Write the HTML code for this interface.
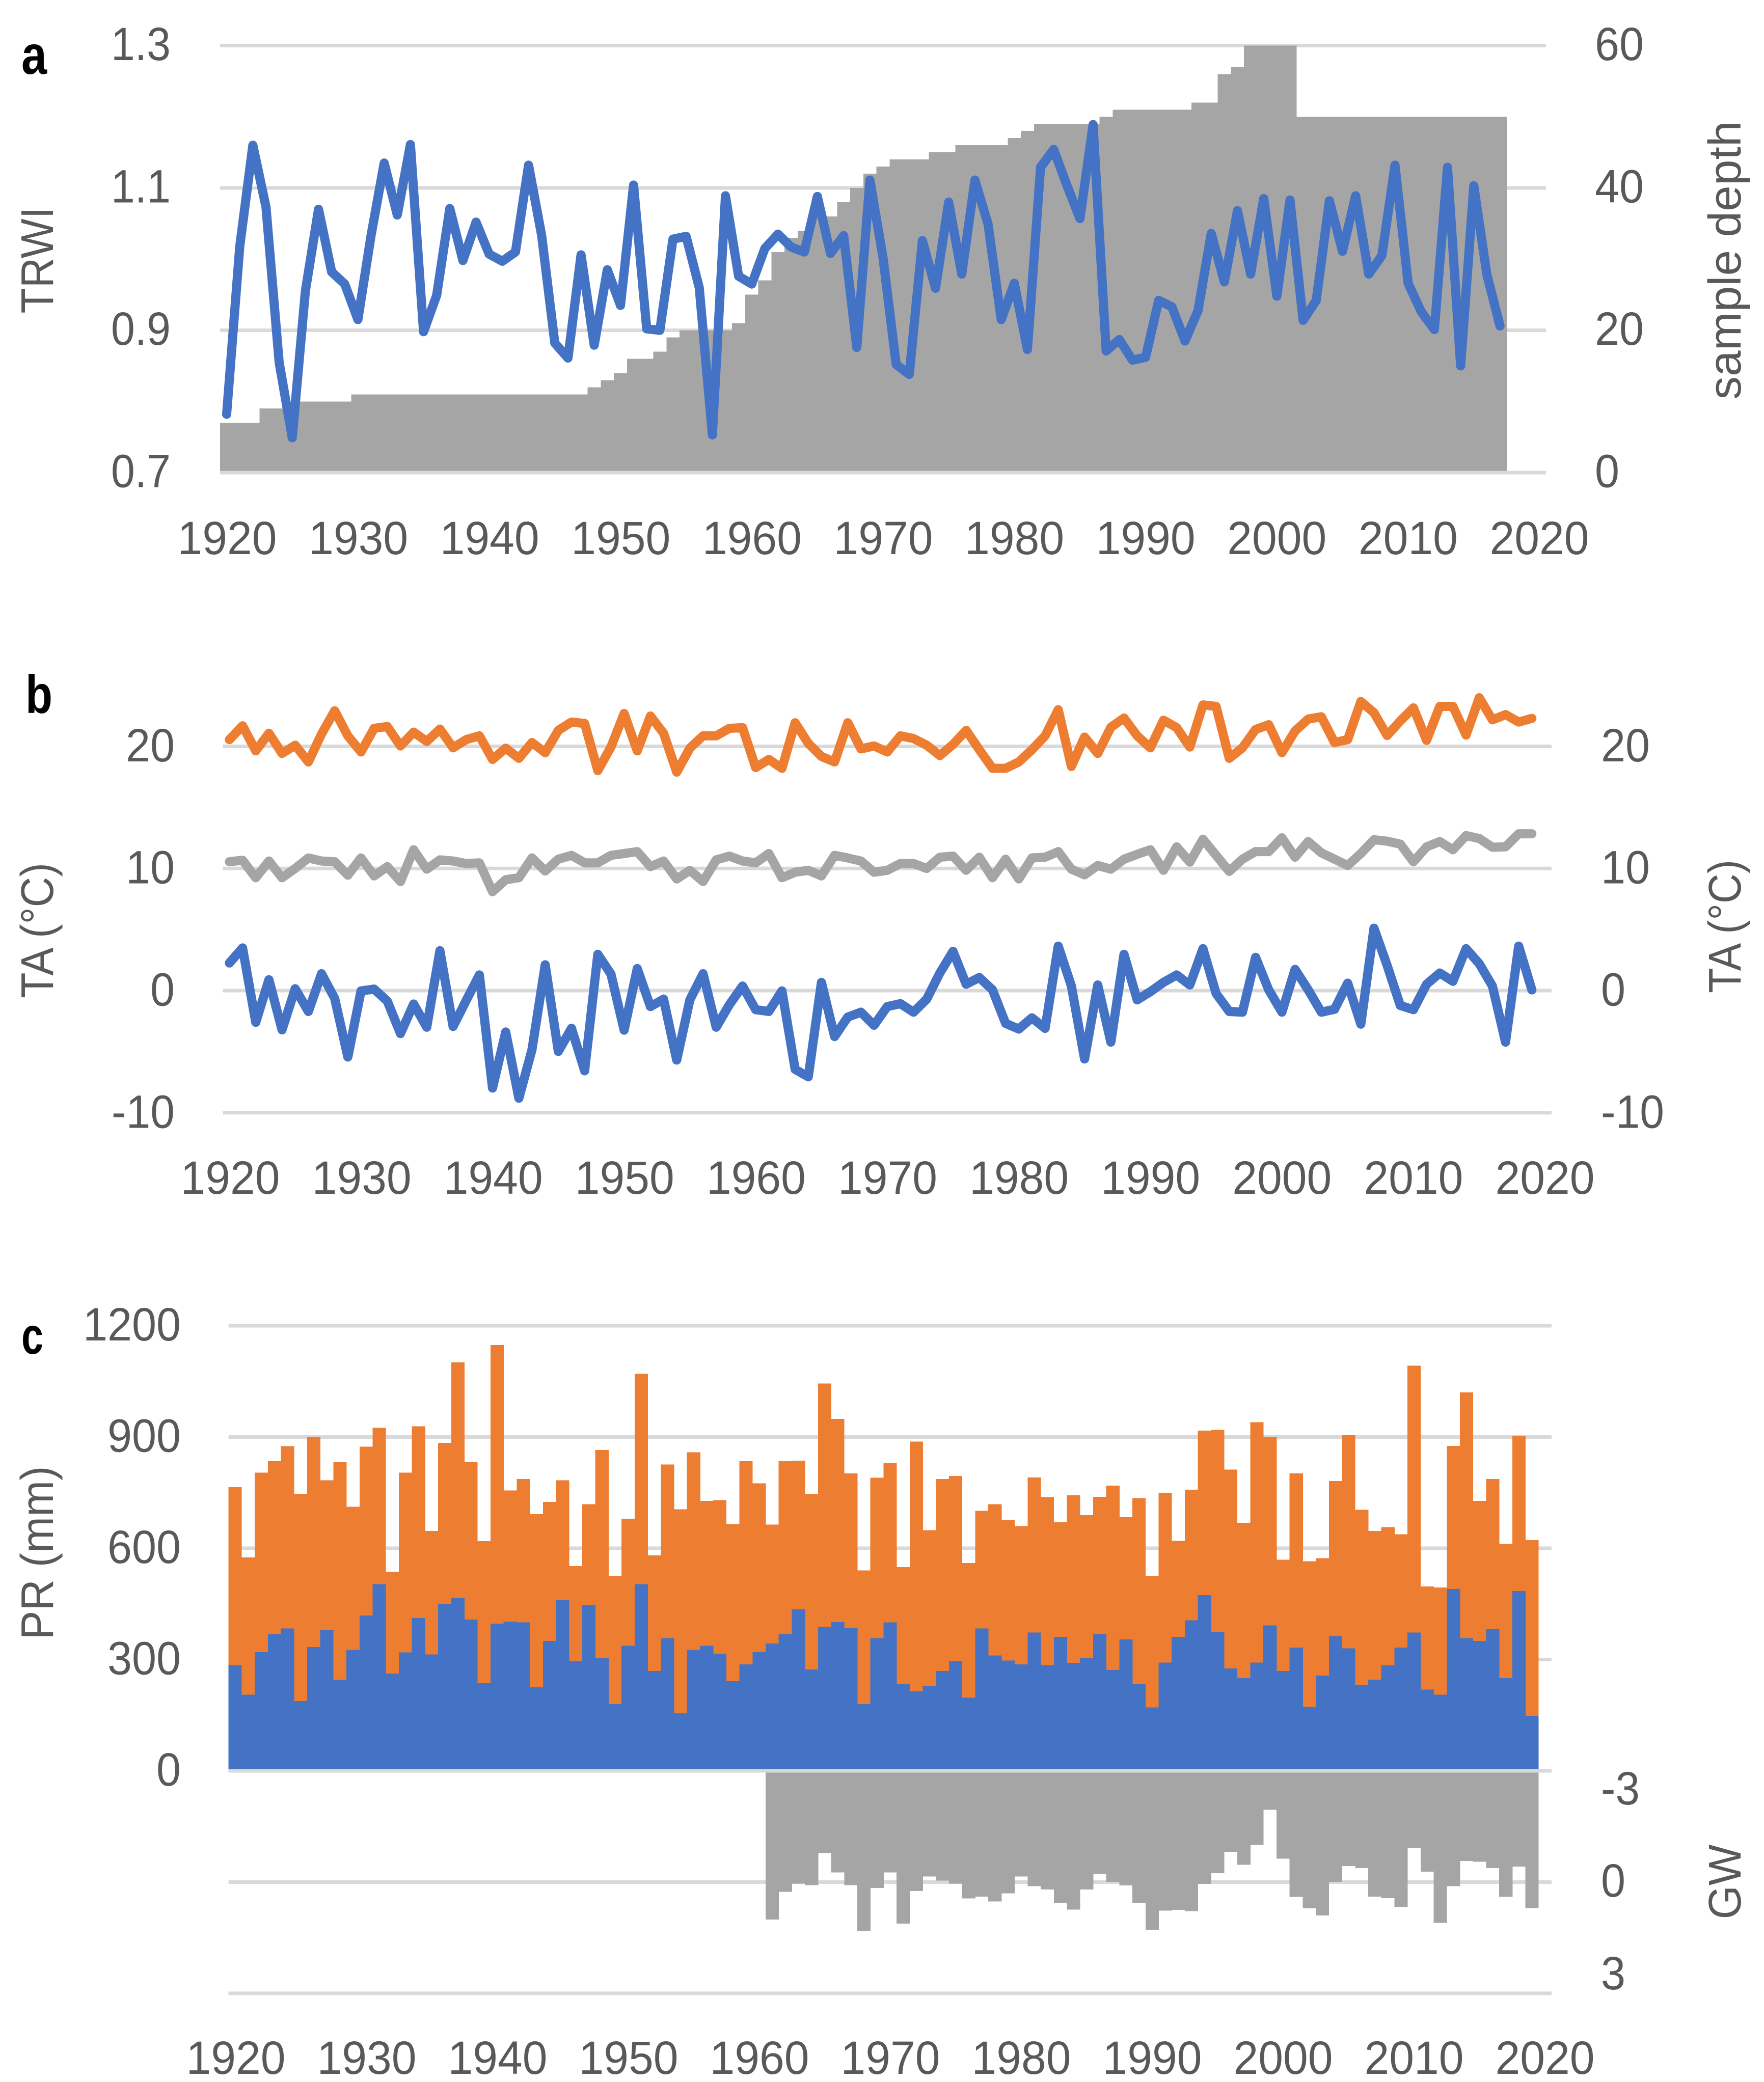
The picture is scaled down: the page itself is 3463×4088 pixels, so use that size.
<!DOCTYPE html>
<html lang="en">
<head>
<meta charset="utf-8">
<title>TRWI, temperature and precipitation, 1920-2020</title>
<style>
html,body{margin:0;padding:0;background:#fff;}
svg{display:block;}
text{font-family:"Liberation Sans",Arial,sans-serif;fill:#595959;}
</style>
</head>
<body>
<svg id="chart" xmlns="http://www.w3.org/2000/svg" width="3463" height="4088" viewBox="0 0 3463 4088">
<rect width="3463" height="4088" fill="#ffffff"/>
<g id="panel-a"></g>
<g id="panel-b"></g>
<g id="panel-c"></g>
<text x="42" y="145" font-size="108" font-weight="700" textLength="50" lengthAdjust="spacingAndGlyphs" style="fill:#000">a</text>
<text x="50" y="1400" font-size="106" font-weight="700" textLength="53" lengthAdjust="spacingAndGlyphs" style="fill:#000">b</text>
<text x="42" y="2658" font-size="102" font-weight="700" textLength="43" lengthAdjust="spacingAndGlyphs" style="fill:#000">c</text>
<text transform="translate(104 511) rotate(-90)" text-anchor="middle" font-size="90" textLength="209" lengthAdjust="spacingAndGlyphs">TRWI</text>
<text transform="translate(3417 511) rotate(-90)" text-anchor="middle" font-size="90" textLength="547" lengthAdjust="spacingAndGlyphs">sample depth</text>
<text transform="translate(104 1827) rotate(-90)" text-anchor="middle" font-size="90" textLength="266" lengthAdjust="spacingAndGlyphs">TA (°C)</text>
<text transform="translate(3417 1819) rotate(-90)" text-anchor="middle" font-size="90" textLength="262" lengthAdjust="spacingAndGlyphs">TA (°C)</text>
<text transform="translate(104 3049) rotate(-90)" text-anchor="middle" font-size="90" textLength="341" lengthAdjust="spacingAndGlyphs">PR (mm)</text>
<text transform="translate(3417 3695) rotate(-90)" text-anchor="middle" font-size="90" textLength="147" lengthAdjust="spacingAndGlyphs">GW</text>
</svg>
<script>
// ---- shared tick labels ----
const yearTicks = [1920,1930,1940,1950,1960,1970,1980,1990,2000,2010,2020];

// ---- panel a data (1920-2017) ----
const trwiTicks = ["0.7","0.9","1.1","1.3"];
const depthTicks = [0,20,40,60];
const trwi = [.782,1.018,1.160,1.073,.855,.749,.955,1.070,.982,.965,.915,1.033,1.135,1.062,1.161,.898,.949,1.071,.998,1.052,1.007,.997,1.010,1.132,1.033,.882,.861,1.006,.879,.985,.935,1.104,.902,.900,1.028,1.032,.960,.753,1.089,.976,.965,1.015,1.035,1.017,1.010,1.088,1.008,1.033,.876,1.111,1.002,.852,.838,1.026,.959,1.080,.979,1.111,1.049,.915,.966,.873,1.129,1.154,1.104,1.057,1.189,.871,.887,.858,.862,.942,.933,.885,.928,1.036,.968,1.068,.979,1.085,.948,1.083,.914,.942,1.082,1.011,1.089,.979,1.005,1.132,.966,.926,.901,1.129,.850,1.103,.978,.906];
const sampleDepth = [7,7,7,9,9,9,10,10,10,10,11,11,11,11,11,11,11,11,11,11,11,11,11,11,11,11,11,11,12,13,14,16,16,17,19,20,20,20,20,21,25,27,31,33,34,36,36,38,40,42,43,44,44,44,45,45,46,46,46,46,47,48,49,49,49,49,49,50,51,51,51,51,51,51,52,52,56,57,60,60,60,60,50,50,50,50,50,50,50,50,50,50,50,50,50,50,50,50];

// ---- panel b data (1920-2019) ----
const taTicks = [-10,0,10,20];
const taSummer = [20.55,21.68,19.63,21.07,19.42,20.09,18.72,21.01,22.91,20.86,19.54,21.47,21.62,20.03,21.16,20.40,21.41,19.88,20.55,20.86,18.93,19.85,19.02,20.31,19.48,21.31,21.99,21.87,18.01,19.94,22.69,19.63,22.48,21.07,17.89,19.85,20.86,20.86,21.47,21.53,18.26,18.93,18.20,21.93,20.24,19.17,18.72,21.93,19.79,20.03,19.54,20.86,20.64,20.09,19.24,20.15,21.31,19.72,18.20,18.20,18.72,19.72,20.86,23.00,18.35,20.76,19.42,21.56,22.32,20.86,19.88,22.14,21.53,19.94,23.39,23.27,19.02,19.88,21.38,21.77,19.48,21.25,22.23,22.42,20.31,20.55,23.67,22.75,20.89,22.08,23.15,20.49,23.27,23.27,20.92,23.98,22.17,22.60,21.99,22.29];
const taAnnual = [10.55,10.67,9.24,10.61,9.24,10.0,10.86,10.61,10.55,9.45,10.86,9.39,10.15,8.93,11.53,9.94,10.70,10.61,10.40,10.46,8.10,9.08,9.24,10.86,9.79,10.76,11.07,10.46,10.46,11.07,11.22,11.38,10.15,10.61,9.14,9.85,8.93,10.70,11.01,10.61,10.46,11.22,9.24,9.69,9.85,9.39,11.07,10.86,10.61,9.69,9.85,10.40,10.40,10.0,10.92,11.01,9.85,10.92,9.24,10.76,9.14,10.86,10.92,11.38,9.94,9.48,10.24,9.94,10.76,11.16,11.53,9.85,11.77,10.52,12.39,11.07,9.76,10.76,11.38,11.38,12.51,10.92,12.20,11.28,10.76,10.24,11.22,12.35,12.23,11.99,10.55,11.77,12.20,11.53,12.69,12.45,11.74,11.77,12.84,12.84];
const taWinter = [2.26,3.49,-2.60,.89,-3.21,.15,-1.71,1.38,-.64,-5.44,-.03,.12,-.86,-3.52,-1.10,-3.00,3.27,-2.94,-.80,1.28,-7.98,-3.39,-8.81,-4.83,2.11,-4.98,-3.09,-6.57,2.97,1.35,-3.24,1.80,-1.31,-.70,-5.69,-.76,1.38,-3.00,-1.16,.37,-1.56,-1.71,-.03,-6.45,-7.06,.67,-3.76,-2.17,-1.77,-2.84,-1.31,-1.07,-1.77,-.70,1.44,3.21,.52,1.07,.06,-2.69,-3.15,-2.23,-3.09,3.64,.37,-5.60,.46,-4.22,2.97,-.76,-.09,.67,1.28,.46,3.43,-.24,-1.71,-1.77,2.72,.06,-1.77,1.74,.06,-1.77,-1.53,.61,-2.75,5.11,2.05,-1.22,-1.56,.52,1.44,.76,3.43,2.20,.37,-4.22,3.64,.06];

// ---- panel c data (1920-2019; groundwater from 1961) ----
const prTicks = [0,300,600,900,1200];
const gwTickLabels = ["-3","0","3"];
const gwGridValues = [-3,0,3];
const prTotal = [765,575,804,835,875,747,900,783,832,712,874,925,537,804,929,647,884,1101,833,619,1148,756,787,692,725,783,552,719,865,525,680,1070,581,826,705,859,728,730,665,835,775,664,835,836,746,1044,949,802,540,790,829,549,888,649,787,795,560,701,719,677,660,791,738,670,743,689,739,769,684,735,525,750,620,758,917,919,812,669,940,900,569,802,565,573,781,905,704,647,657,638,1092,497,494,876,1020,728,787,612,902,622];
const prPart = [285,205,320,369,384,188,334,380,245,326,419,503,262,319,412,314,450,466,408,236,397,402,400,225,350,460,296,446,304,180,337,503,269,358,155,326,337,316,242,287,320,343,369,435,273,388,401,385,180,358,400,234,214,229,269,296,197,384,311,297,287,373,285,361,291,304,369,272,354,234,171,292,361,406,474,374,276,250,292,392,269,332,172,257,363,330,232,246,285,332,373,219,205,490,358,350,382,250,485,148];
const groundwater = [1.01,.26,.04,.08,-.78,-.26,.08,1.32,.16,-.26,1.12,.24,-.15,-.04,.04,.44,.39,.52,.30,-.15,.11,.20,.57,.74,.20,-.22,-.01,.09,.57,1.29,.77,.75,.78,.05,-.24,-.82,-.47,-1.00,-1.95,-.63,.40,.71,.90,-.01,-.43,-.38,.39,.43,.67,-.92,-.28,1.10,.11,-.57,-.55,-.38,.40,-.42,.70];
const gwStartYear = 1961;

const NS = 'http://www.w3.org/2000/svg';
const GRID = '#D9D9D9', BLUE = '#4472C4', ORANGE = '#ED7D31', GRAY = '#A5A5A5';

function make(parent, tag, attrs, name) {
  const el = document.createElementNS(NS, tag);
  for (const k in attrs) el.setAttribute(k, attrs[k]);
  
  
  parent.appendChild(el);
  return el;
}
function gridLine(parent, x0, x1, y, name) {
  make(parent, 'rect', {x: x0, y: y - 3.5, width: x1 - x0, height: 7, fill: GRID}, name);
}
function textWidth(str) {
  let w = 0;
  for (const c of str) w += c === '.' ? 21 : c === '-' ? 28 : 48;
  return w;
}
function label(parent, x, y, str, anchor, name, len) {
  const t = make(parent, 'text', {x: x, y: y, 'font-size': 92, 'text-anchor': anchor, textLength: len || textWidth(str), lengthAdjust: 'spacingAndGlyphs'}, name);
  t.textContent = str;
}
function polyline(parent, xs, ys, color, name) {
  const pts = xs.map((x, i) => x.toFixed(1) + ',' + ys[i].toFixed(1)).join(' ');
  make(parent, 'polyline', {points: pts, fill: 'none', stroke: color, 'stroke-width': 18, 'stroke-linejoin': 'round', 'stroke-linecap': 'round'}, name);
}
function bar(parent, x, w, y0, y1, color, name) {
  const top = Math.min(y0, y1), h = Math.abs(y1 - y0);
  make(parent, 'rect', {x: x.toFixed(2), y: top.toFixed(2), width: (w + 0.4).toFixed(2), height: h.toFixed(2), fill: color, 'shape-rendering': 'crispEdges'}, name);
}

// ---- panel a ----
(function () {
  const g = document.getElementById('panel-a');
  const x0 = 432, x1 = 3035, step = (x1 - x0) / 101;
  const xBand = i => x0 + i * step;
  const xMid = i => xBand(i) + step / 2;
  const yL = v => 928 - (v - 0.7) / 0.6 * 838.5;
  const yR = v => 928 - v / 60 * 838.5;
  trwiTicks.forEach(t => {
    gridLine(g, x0, x1, yL(+t), 'gridline-trwi-' + t);
    label(g, 335, yL(+t) + 28.5, t, 'end', 'y-tick-trwi-' + t);
  });
  depthTicks.forEach(t => label(g, 3131, yR(t) + 28.5, String(t), 'start', 'y-tick-depth-' + t));
  yearTicks.forEach(y => label(g, 446 + (y - 1920) * 25.76, 1088, String(y), 'middle', 'x-tick-a-' + y, 195));
  sampleDepth.forEach((v, i) => bar(g, xBand(i), step, yR(v), yR(0), GRAY, 'sample-depth-bar-' + (1920 + i)));
  gridLine(g, x0, x1, yL(0.7), 'x-axis-line-a');
  polyline(g, trwi.map((v, i) => xMid(i)), trwi.map(yL), BLUE, 'trwi-line');
})();

// ---- panel b ----
(function () {
  const g = document.getElementById('panel-b');
  const x0 = 437.5, x1 = 3046, step = (x1 - x0) / 101;
  const xMid = i => x0 + (i + 0.5) * step;
  const y = v => 1945 - v * 23.98;
  taTicks.forEach(t => {
    gridLine(g, x0, x1, y(t), 'gridline-ta-' + t);
    label(g, 343, y(t) + 29.5, String(t), 'end', 'y-tick-ta-left-' + t);
    label(g, 3143, y(t) + 29.5, String(t), 'start', 'y-tick-ta-right-' + t);
  });
  yearTicks.forEach(yr => label(g, 452 + (yr - 1920) * 25.81, 2344, String(yr), 'middle', 'x-tick-b-' + yr, 195));
  polyline(g, taSummer.map((v, i) => xMid(i)), taSummer.map(y), ORANGE, 'ta-summer-line');
  polyline(g, taAnnual.map((v, i) => xMid(i)), taAnnual.map(y), GRAY, 'ta-annual-line');
  polyline(g, taWinter.map((v, i) => xMid(i)), taWinter.map(y), BLUE, 'ta-winter-line');
})();

// ---- panel c ----
(function () {
  const g = document.getElementById('panel-c');
  const x0 = 448.6, x1 = 3046, step = (x1 - x0) / 101;
  const xBand = i => x0 + i * step;
  const yP = v => 3477 - v * 0.7283;
  const yG = v => 3695.5 + v * 72.8;
  prTicks.forEach(t => {
    if (t !== 0) gridLine(g, x0, x1, yP(t), 'gridline-pr-' + t);
    label(g, 355, yP(t) + 29, String(t), 'end', 'y-tick-pr-' + t);
  });
  gwGridValues.forEach(v => {
    if (v !== -3) gridLine(g, x0, x1, yG(v), 'gridline-gw-' + v);
  });
  label(g, 3143, 3543, gwTickLabels[0], 'start', 'y-tick-gw-minus-3');
  label(g, 3143, 3724, gwTickLabels[1], 'start', 'y-tick-gw-0');
  label(g, 3143, 3906, gwTickLabels[2], 'start', 'y-tick-gw-3');
  yearTicks.forEach(yr => label(g, 463 + (yr - 1920) * 25.7, 4072, String(yr), 'middle', 'x-tick-c-' + yr, 195));
  prTotal.forEach((v, i) => bar(g, xBand(i), step, yP(v), yP(0), ORANGE, 'pr-total-bar-' + (1920 + i)));
  prPart.forEach((v, i) => bar(g, xBand(i), step, yP(v), yP(0), BLUE, 'pr-part-bar-' + (1920 + i)));
  groundwater.forEach((v, i) => bar(g, xBand(gwStartYear - 1920 + i), step, yG(-3), yG(v), GRAY, 'groundwater-bar-' + (gwStartYear + i)));
  gridLine(g, x0, x1, yP(0), 'zero-axis-line-c');
})();
</script>
</body>
</html>
